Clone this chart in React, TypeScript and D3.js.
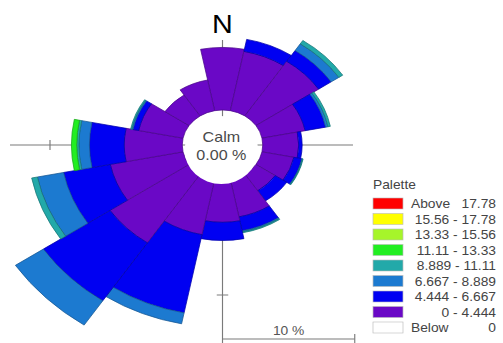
import React from 'react';
import * as d3 from 'd3';

// the reference is stretched horizontally, so the viewBox is squeezed by SX
const SX = 1.15;
const W = 503;
const H = 343;

const directions = ['N', 'NNE', 'NE', 'ENE', 'E', 'ESE', 'SE', 'SSE', 'S', 'SSW', 'SW', 'WSW', 'W', 'WNW', 'NW', 'NNW'];

// frequency (%) per speed class, one value per direction
const speed0to4 = [5.44, 5.26, 5.7, 3.33, 2.72, 2.46, 1.75, 3.33, 3.68, 4.91, 7.19, 5.61, 4.39, 3.42, 2.19, 2.72];
const speed4to6 = [0, 1.06, 1.14, 1.58, 0.26, 0.61, 1.05, 1.23, 1.58, 6.93, 6.06, 3.6, 2.63, 0.44, 0, 0];
const speed6to8 = [0, 0, 0.7, 0.18, 0, 0.05, 0, 0.1, 0, 0.97, 2.54, 2.02, 0.79, 0.09, 0, 0];
const speed8to11 = [0, 0, 0.35, 0.18, 0, 0.05, 0, 0.08, 0, 0, 0, 0.44, 0.17, 0.09, 0, 0];
const speed11to13 = [0, 0, 0, 0, 0, 0, 0, 0, 0, 0, 0, 0, 0.4, 0, 0, 0];

const series = [speed0to4, speed4to6, speed6to8, speed8to11, speed11to13];
const seriesColors = ['#6a08c6', '#0000f2', '#1c7ad0', '#22a9a9', '#22ee22'];

const paletteLeft = ['Above', '', '', '', '', '', '', '', 'Below'];
const paletteRight = ['17.78', '15.56 - 17.78', '13.33 - 15.56', '11.11 - 13.33', '8.889 - 11.11', '6.667 - 8.889', '4.444 - 6.667', '0 - 4.444', '0'];
const paletteColors = ['#ff0000', '#ffff00', '#a6f52a', '#22ee22', '#22a9a9', '#1c7ad0', '#0000f2', '#6a08c6', '#ffffff'];

const calmText = ['Calm', '0.00 %'];

const App = () => {
  const cx = 222.5 / SX;
  const cy = 145;
  const r = d3.scaleLinear().domain([0, 10]).range([35, 150]);
  const step = (2 * Math.PI) / directions.length;
  const arc = d3.arc<any>();

  const sectors: { d: string; fill: string; stroke: string }[] = [];
  directions.forEach((dir, i) => {
    let acc = 0;
    series.forEach((s, k) => {
      const v = s[i];
      if (v <= 0) return;
      const d = arc({
        innerRadius: r(acc),
        outerRadius: r(acc + v),
        startAngle: i * step - step / 2,
        endAngle: i * step + step / 2,
      }) as string;
      acc += v;
      sectors.push({ d, fill: seriesColors[k], stroke: d3.color(seriesColors[k])!.darker(1).toString() });
    });
  });

  const tickR = r(10);
  const barLen = r(10) - r(0);
  const font = '"Liberation Sans", Arial, sans-serif';

  return (
    <svg
      width={W}
      height={H}
      viewBox={`0 0 ${W / SX} ${H}`}
      preserveAspectRatio="none"
      style={{ position: 'absolute', left: 0, top: 0, background: '#fff' }}
    >
      <g stroke="#7a7a7a" strokeWidth={1} fill="none">
        <line x1={10 / SX} x2={353 / SX} y1={cy} y2={cy} />
        <line x1={cx} x2={cx} y1={40} y2={H} />
        <line x1={cx - tickR} x2={cx - tickR} y1={cy - 5} y2={cy + 5} />
        <line x1={cx - 5} x2={cx + 5} y1={cy + tickR} y2={cy + tickR} />
        <line x1={cx} x2={cx + barLen} y1={339} y2={339} />
        <line x1={cx + barLen} x2={cx + barLen} y1={334} y2={H} />
      </g>
      <g transform={`translate(${cx},${cy})`}>
        {sectors.map((s, i) => (
          <path key={i} d={s.d} fill={s.fill} stroke={s.stroke} strokeWidth={0.7} />
        ))}
      </g>
      <ellipse cx={cx - 1} cy={150} rx={32} ry={34} fill="#fff" />
      <g fontFamily={font} fill="#4a4a4a" fontSize={14} textAnchor="middle">
        <text x={cx - 1} y={142}>{calmText[0]}</text>
        <text x={cx - 1} y={160}>{calmText[1]}</text>
      </g>
      <text x={cx} y={33} fontFamily={font} fontSize={25} textAnchor="middle" fill="#000">N</text>
      <text x={cx + barLen / 2} y={335} fontFamily={font} fontSize={12} textAnchor="middle" fill="#555">10 %</text>
      <g fontFamily={font} fontSize={12} fill="#444">
        <text x={373 / SX} y={189}>Palette</text>
        {paletteColors.map((c, i) => (
          <g key={i} transform={`translate(0,${198 + i * 15.5})`}>
            <rect x={373 / SX} y={0} width={30 / SX} height={11} fill={c} stroke="#bbb" strokeWidth={0.6} />
            {paletteLeft[i] && <text x={411 / SX} y={10}>{paletteLeft[i]}</text>}
            <text x={496 / SX} y={10} textAnchor="end">{paletteRight[i]}</text>
          </g>
        ))}
      </g>
    </svg>
  );
};

export default App;
